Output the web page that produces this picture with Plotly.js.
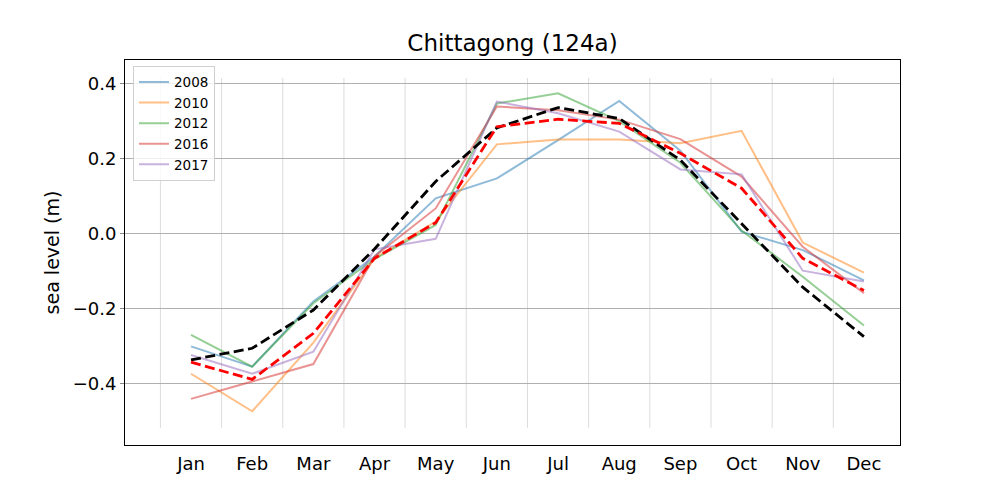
<!DOCTYPE html>
<html>
<head>
<meta charset="utf-8">
<script src="https://cdn.plot.ly/plotly-3.0.1.min.js"></script>
<style>html,body{margin:0;padding:0;background:#fff;}#chart{width:1000px;height:500px;}</style>
</head>
<body>
<div id="chart"></div>
<script>
const months = ['Jan','Feb','Mar','Apr','May','Jun','Jul','Aug','Sep','Oct','Nov','Dec'];
const monthIdx = [1,2,3,4,5,6,7,8,9,10,11,12];
const yearNames = ['2008','2010','2012','2016','2017'];
const y2008 = [-0.300,-0.354,-0.180,-0.060,0.095,0.148,0.250,0.355,0.222,0.006,-0.043,-0.124];
const y2010 = [-0.373,-0.473,-0.290,-0.065,0.033,0.239,0.252,0.252,0.242,0.275,-0.023,-0.103];
const y2012 = [-0.269,-0.354,-0.185,-0.067,0.024,0.348,0.375,0.301,0.190,0.009,-0.114,-0.244];
const y2016 = [-0.440,-0.393,-0.347,-0.060,0.068,0.340,0.330,0.305,0.253,0.153,-0.034,-0.158];
const y2017 = [-0.323,-0.373,-0.314,-0.041,-0.013,0.353,0.322,0.273,0.172,0.159,-0.098,-0.127];
const meanCurve = [-0.342,-0.388,-0.265,-0.065,0.030,0.286,0.306,0.295,0.215,0.122,-0.065,-0.151];
const fitCurve = [-0.336,-0.305,-0.203,-0.040,0.140,0.283,0.337,0.308,0.197,0.028,-0.142,-0.274];
const yTickVals = [-0.4,-0.2,0.0,0.2,0.4];
const yTickText = ['\u22120.4','\u22120.2','0.0','0.2','0.4'];

const yearSeries = [y2008,y2010,y2012,y2016,y2017];
const yearColors = ['rgba(31,119,180,0.5)','rgba(255,127,14,0.5)','rgba(44,160,44,0.5)','rgba(214,39,40,0.5)','rgba(148,103,189,0.5)'];

const traces = yearSeries.map((ys,i)=>({
  x: monthIdx, y: ys, type:'scatter', mode:'lines', name: yearNames[i],
  line:{color:yearColors[i], width:2}
}));
traces.push({x:monthIdx, y:fitCurve, type:'scatter', mode:'lines', showlegend:false,
  line:{color:'#000000', width:2.8, dash:'10px,4.5px'}});
traces.push({x:monthIdx, y:meanCurve, type:'scatter', mode:'lines', showlegend:false,
  line:{color:'#ff0000', width:2.8, dash:'10px,4.5px'}});

const vLo = -0.517, vHi = 0.416;
const shapes = monthIdx.map(m=>({type:'line', xref:'x', yref:'y', x0:m-0.5, x1:m-0.5, y0:vLo, y1:vHi,
  line:{color:'#dcdcdc', width:1}, layer:'below'}));

const font = 'DejaVu Sans, sans-serif';
const layout = {
  width:1000, height:500,
  margin:{l:125, r:100, t:60, b:55},
  paper_bgcolor:'#ffffff', plot_bgcolor:'#ffffff',
  font:{family:font, color:'#000'},
  title:{text:'Chittagong (124a)', font:{family:font, size:23, color:'#000'}, x:0.5125, xanchor:'center', y:0.914, yanchor:'middle'},
  showlegend:true,
  legend:{x:0.0103, y:0.985, xanchor:'left', yanchor:'top', bgcolor:'rgba(255,255,255,0.8)',
    bordercolor:'#d0d0d0', borderwidth:1, font:{family:font, size:13.5, color:'#000'}, tracegroupgap:0, itemwidth:30},
  xaxis:{range:[-0.079,12.59], tickmode:'array', tickvals:monthIdx, ticktext:months, showgrid:false, zeroline:false,
    showline:true, linecolor:'#000', linewidth:1, mirror:true, ticks:'', ticklabelstandoff:2,
    tickfont:{family:font, size:18, color:'#000'}},
  yaxis:{range:[-0.563,0.464], tickmode:'array', tickvals:yTickVals, ticktext:yTickText, showgrid:true, gridcolor:'#b0b0b0', gridwidth:1,
    zeroline:false, showline:true, linecolor:'#000', linewidth:1, mirror:true, ticks:'outside', ticklen:4, tickcolor:'#888', tickwidth:1,
    tickfont:{family:font, size:18, color:'#000'},
    title:{text:'sea level (m)', font:{family:font, size:19, color:'#000'}, standoff:8}},
  shapes: shapes
};
Plotly.newPlot('chart', traces, layout, {displayModeBar:false, staticPlot:true});
</script>
</body>
</html>
